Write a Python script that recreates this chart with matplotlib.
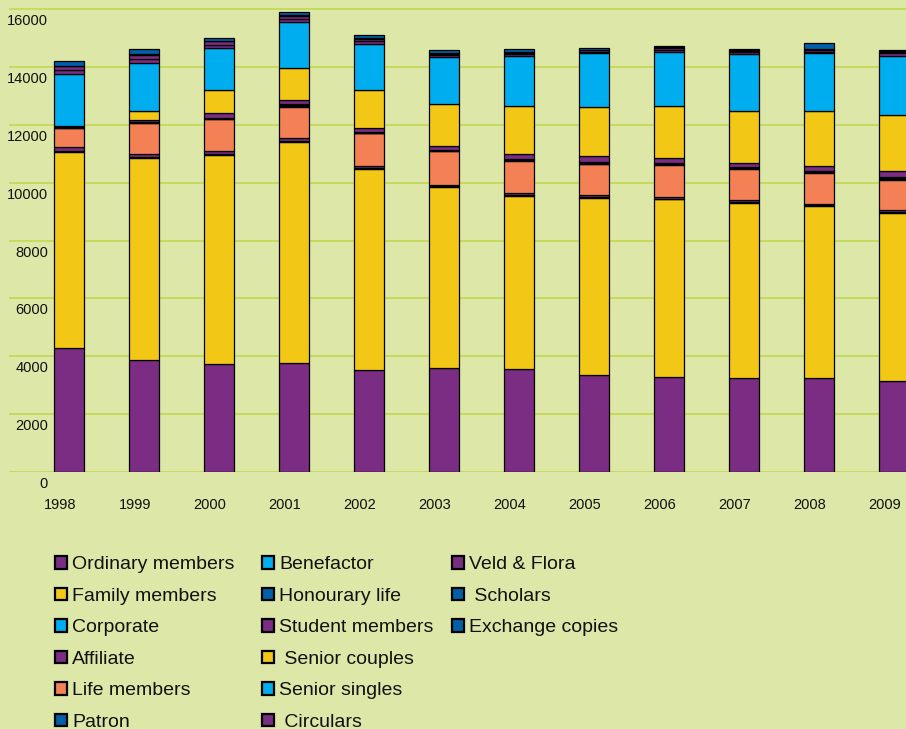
import matplotlib
matplotlib.use('Agg')
import matplotlib.pyplot as plt
from matplotlib.patches import Patch
from matplotlib import transforms
import numpy as np

plt.rcParams['font.family'] = ['Liberation Sans', 'DejaVu Sans']

years = ['1998', '1999', '2000', '2001', '2002', '2003', '2004', '2005', '2006', '2007', '2008', '2009']

ordinary = [4300, 3885, 3723, 3758, 3516, 3575, 3540, 3343, 3274, 3229, 3240, 3147]
family = [6757, 6978, 7244, 7644, 6953, 6273, 5997, 6125, 6148, 6079, 5941, 5816]
corporate = [50, 40, 35, 50, 35, 30, 35, 35, 30, 30, 35, 30]
affiliate = [120, 97, 89, 88, 69, 52, 68, 58, 50, 50, 58, 50]
life = [670, 1058, 1104, 1071, 1139, 1170, 1130, 1089, 1119, 1095, 1058, 1060]
patron = [15, 15, 15, 40, 10, 10, 15, 15, 15, 15, 25, 25]
benefactor = [20, 20, 20, 40, 15, 20, 28, 30, 26, 26, 42, 40]
honourary = [15, 15, 15, 37, 10, 10, 15, 16, 15, 15, 25, 25]
student = [30, 68, 159, 138, 152, 148, 172, 207, 172, 162, 149, 207]
senior_couples = [0, 321, 818, 1106, 1323, 1440, 1659, 1717, 1810, 1796, 1901, 1959]
senior_singles = [1787, 1647, 1440, 1575, 1578, 1610, 1714, 1843, 1852, 1958, 2004, 2038]
circulars = [150, 150, 120, 130, 100, 70, 70, 60, 80, 60, 60, 80]
veld_flora = [110, 126, 110, 101, 73, 47, 47, 50, 70, 50, 55, 60]
scholars = [20, 20, 15, 15, 20, 20, 20, 20, 20, 20, 20, 15]
exchange = [155, 188, 100, 100, 128, 118, 118, 54, 50, 43, 222, 41]

series_names = ['Ordinary members', 'Family members', 'Corporate', 'Affiliate', 'Life members',
                'Patron', 'Benefactor', 'Honourary life', 'Student members', ' Senior couples',
                'Senior singles', ' Circulars', 'Veld & Flora', ' Scholars', 'Exchange copies']
series_values = [ordinary, family, corporate, affiliate, life, patron, benefactor, honourary,
                 student, senior_couples, senior_singles, circulars, veld_flora, scholars, exchange]

ytick_values = [0, 2000, 4000, 6000, 8000, 10000, 12000, 14000, 16000]
ytick_labels = ['0', '2000', '4000', '6000', '8000', '10000', '12000', '14000', '16000']

PURPLE = '#7B2C83'
YELLOW = '#F2C716'
CYAN = '#00ADEE'
SALMON = '#F48055'
BLUE = '#0060A9'
series_colors = [PURPLE, YELLOW, CYAN, PURPLE, SALMON, BLUE, CYAN, BLUE, PURPLE, YELLOW,
                 CYAN, PURPLE, PURPLE, BLUE, BLUE]

BG = '#DDE7A8'
GRID = '#C2DA55'

fig = plt.figure(figsize=(9.06, 7.29), dpi=100)
fig.patch.set_facecolor(BG)
ax = fig.add_axes([0, (729 - 471.8) / 729, 1, 471.1 / 729])
ax.set_facecolor(BG)
ax.set_xlim(-0.92, 11.16)
ax.set_ylim(0, 16300)
for s in ax.spines.values():
    s.set_visible(False)
ax.set_xticks([])
ax.set_yticks([])

for v in ytick_values:
    ax.axhline(v, xmin=10 / 906, xmax=1, color=GRID, lw=1.3, zorder=0)

x = np.arange(len(years))
bottom = np.zeros(len(years))
for name, vals, col in zip(series_names, series_values, series_colors):
    vals = np.array(vals, dtype=float)
    ax.bar(x, vals, 0.4, bottom=bottom, color=col, edgecolor='black', linewidth=0.9,
           zorder=2, label=name)
    bottom += vals

# y tick labels (placed inside, below gridlines)
ylab_tr = transforms.blended_transform_factory(ax.transAxes, ax.transData) + \
    transforms.ScaledTranslation(0, -12 / 100, fig.dpi_scale_trans)
for v, lab in zip(ytick_values, ytick_labels):
    ax.text(48 / 906, v, lab, transform=ylab_tr, ha='right', va='center',
            fontsize=10.5, color='#111111')

# x tick labels
xlab_tr = transforms.blended_transform_factory(ax.transData, ax.transAxes)
for i, lab in enumerate(years):
    ax.text(i - 9 / 75, -(505 - 471.8) / 471.1, lab, transform=xlab_tr, ha='center',
            va='center', fontsize=10.5, color='#111111', clip_on=False)

# legend in three columns
handles = [Patch(facecolor=c, edgecolor='black', linewidth=1.6) for c in series_colors]
groups = [(0, 6, 55), (6, 12, 262), (12, 15, 452)]
for a, b, xp in groups:
    leg = fig.legend(handles[a:b], series_names[a:b], loc='upper left',
                     bbox_to_anchor=(xp / 906, 1 - 556 / 729), frameon=False,
                     fontsize=14, handlelength=0.62, handleheight=0.62,
                     handletextpad=0.25, labelspacing=0.74, borderpad=0,
                     borderaxespad=0)
    for t in leg.get_texts():
        t.set_color('#111111')

fig.savefig('out.png', dpi=100, facecolor=BG)
